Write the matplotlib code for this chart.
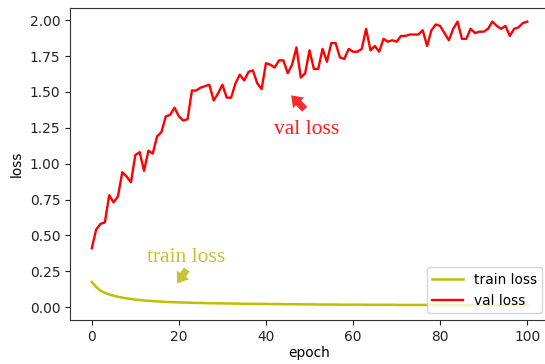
import matplotlib
matplotlib.use("Agg")
import matplotlib.pyplot as plt

epochs = list(range(101))

val_loss = [0.41, 0.54, 0.58, 0.59, 0.78, 0.73, 0.77, 0.94, 0.91, 0.87,
            1.06, 1.08, 0.95, 1.09, 1.07, 1.19, 1.22, 1.33, 1.34, 1.39,
            1.33, 1.30, 1.31, 1.51, 1.51, 1.53, 1.54, 1.55, 1.44, 1.49,
            1.55, 1.46, 1.46, 1.56, 1.62, 1.58, 1.64, 1.65, 1.56, 1.52,
            1.70, 1.69, 1.67, 1.72, 1.72, 1.63, 1.69, 1.81, 1.60, 1.63,
            1.79, 1.66, 1.66, 1.80, 1.71, 1.84, 1.84, 1.74, 1.73, 1.80,
            1.78, 1.78, 1.80, 1.94, 1.79, 1.82, 1.78, 1.87, 1.85, 1.86,
            1.85, 1.89, 1.89, 1.90, 1.90, 1.90, 1.93, 1.82, 1.93, 1.97,
            1.96, 1.91, 1.86, 1.94, 1.99, 1.87, 1.87, 1.94, 1.91, 1.92,
            1.92, 1.94, 1.99, 1.96, 1.94, 1.96, 1.89, 1.94, 1.95, 1.98,
            1.99]

train_loss = [0.175, 0.140, 0.115, 0.100, 0.088, 0.079, 0.072, 0.066, 0.061, 0.056,
              0.052, 0.049, 0.046, 0.044, 0.042, 0.040, 0.038, 0.036, 0.035, 0.034,
              0.033, 0.032, 0.031, 0.030, 0.029, 0.029, 0.028, 0.027, 0.027, 0.026,
              0.026, 0.025, 0.025, 0.024, 0.024, 0.023, 0.023, 0.023, 0.022, 0.022,
              0.022, 0.021, 0.021, 0.021, 0.020, 0.020, 0.020, 0.020, 0.019, 0.019,
              0.019, 0.019, 0.018, 0.018, 0.018, 0.018, 0.018, 0.017, 0.017, 0.017,
              0.017, 0.017, 0.017, 0.016, 0.016, 0.016, 0.016, 0.016, 0.016, 0.016,
              0.015, 0.015, 0.015, 0.015, 0.015, 0.015, 0.015, 0.015, 0.015, 0.015,
              0.015, 0.015, 0.015, 0.014, 0.014, 0.014, 0.014, 0.014, 0.014, 0.014,
              0.014, 0.014, 0.013, 0.013, 0.013, 0.013, 0.013, 0.013, 0.013, 0.013,
              0.013]

x_ticks = [0, 20, 40, 60, 80, 100]
y_ticks = [0.00, 0.25, 0.50, 0.75, 1.00, 1.25, 1.50, 1.75, 2.00]

plt.rcParams['font.family'] = ['DejaVu Sans']
plt.rcParams['font.size'] = 9.9

fig = plt.figure(figsize=(5.45, 3.64), dpi=100)
ax = fig.add_axes([70/545, 1 - 320/364, (549 - 70)/545, (320 - 8)/364])

ax.plot(epochs, train_loss, color='y', lw=1.8, label='train loss')
ax.plot(epochs, val_loss, color='r', lw=1.7, label='val loss')

ax.set_xlim(-5, 105)
ax.set_ylim(-0.09, 2.085)
ax.set_xticks(x_ticks)
ax.set_yticks(y_ticks)
ax.set_yticklabels([f"{v:.2f}" for v in y_ticks])
ax.set_xlabel('epoch', labelpad=2)
ax.set_ylabel('loss', labelpad=4)
for s in ax.spines.values():
    s.set_color('#333333')
ax.tick_params(colors='#222222')

ax.legend(loc='lower right', handlelength=2.2, framealpha=0.8)

serif = ['Liberation Serif', 'DejaVu Serif']
ax.text(41.9, 1.205, 'val loss', color='#ff1a1a', family=serif, fontsize=15.5,
        ha='left', va='baseline')
ax.text(12.6, 0.315, 'train loss', color='#c4c43a', family=serif, fontsize=15.5,
        ha='left', va='baseline')

astyle = 'simple,head_length=0.75,head_width=1.1,tail_width=0.5'
ax.annotate('', xy=(45.8, 1.476), xytext=(48.9, 1.379),
            arrowprops=dict(arrowstyle=astyle, color='#ff2a2a', mutation_scale=10,
                            shrinkA=0, shrinkB=0, lw=0))
ax.annotate('', xy=(19.6, 0.165), xytext=(21.8, 0.262),
            arrowprops=dict(arrowstyle=astyle, color='#c4c43a', mutation_scale=10,
                            shrinkA=0, shrinkB=0, lw=0))

fig.savefig('out.png', dpi=100)
